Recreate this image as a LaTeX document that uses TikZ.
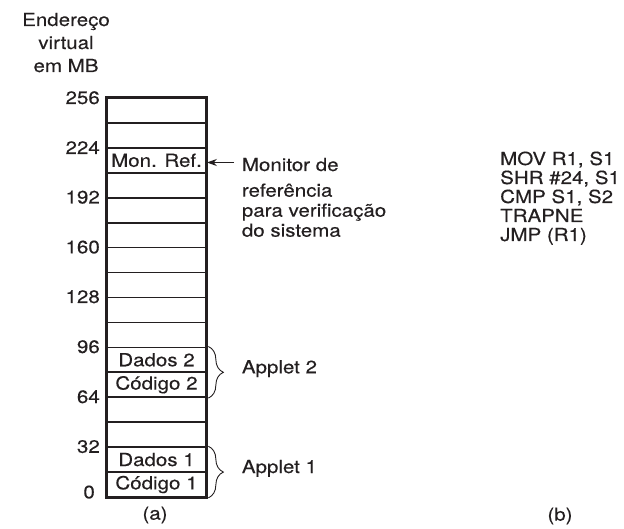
\documentclass[tikz,border=0pt]{standalone}
\usepackage{fontspec}
\setmainfont{TeX Gyre Heros}[FakeStretch=1.14,FakeBold=0.3]
\usetikzlibrary{arrows.meta,decorations.pathreplacing}
\definecolor{ink}{HTML}{231F20}
\begin{document}
\begin{tikzpicture}[x=1pt,y=-1pt,
  every node/.style={font=\fontsize{18}{20}\selectfont, inner sep=0pt, text=ink},
  cell/.style={draw=ink, line width=1.7pt, minimum width=99pt, minimum height=24.9375pt},
  num/.style={anchor=base east},
  lbl/.style={anchor=base west},
  bracestyle/.style={draw=ink, line width=0.9pt, decorate, decoration={brace, amplitude=15pt}}]
\useasboundingbox (0,0) rectangle (624,529);
% cells, 0 at bottom
\foreach \k in {0,...,15}
  \node[cell] (c\k) at (156.5, {98 + (15-\k)*24.9375 + 12.46875}) {};
\draw[ink, line width=2pt] (c15.north west) rectangle (c0.south east);
% cell texts
\node (t13) at (c13) {Mon. Ref.};
\node (t5) at (c5) {Dados 2};
\node (t4) at (c4) {Código 2};
\node (t1) at (c1) {Dados 1};
\node (t0) at (c0) {Código 1};
% axis title
\node[anchor=base] (e1) at (66,26) {Endereço};
\node[anchor=base] (e2) at (66,49) {virtual};
\node[anchor=base] (e3) at (66,72) {em MB};
% numbers
\node[num] (n256) at (100,104) {256};
\node[num] (n224) at (100,154) {224};
\node[num] (n192) at (100,203.5) {192};
\node[num] (n160) at (100,253.3) {160};
\node[num] (n128) at (100,303) {128};
\node[num] (n96) at (100,353) {96};
\node[num] (n64) at (100,403) {64};
\node[num] (n32) at (100,452.8) {32};
\node[num] (n0) at (95,498.3) {0};
% monitor
\node[lbl] (m1) at (241.7,171) {Monitor de};
\node[lbl] (m2) at (241.7,196.7) {referência};
\node[lbl] (m3) at (241.7,216.7) {para verificação};
\node[lbl] (m4) at (241.7,236.7) {do sistema};
\coordinate (arrS) at (234,162.5);
\draw[ink, line width=1.6pt, -{Stealth[length=10pt,width=7pt]}] (arrS) -- (arrS -| c13.east);
% braces
\draw[bracestyle] ([xshift=1.5pt]c5.north east) -- ([xshift=1.5pt]c4.south east);
\draw[bracestyle] ([xshift=1.5pt]c1.north east) -- ([xshift=1.5pt]c0.south east);
\node[lbl] (a2) at (241.7,373.3) {Applet 2};
\node[lbl] (a1) at (241.7,473) {Applet 1};
% captions
\node (capa) at (155,515) {(a)};
\node (capb) at (560,516) {(b)};
% code
\node[lbl] (k1) at (500,165) {MOV R1, S1};
\node[lbl] (k2) at (500,184) {SHR \#24, S1};
\node[lbl] (k3) at (500,203) {CMP S1, S2};
\node[lbl] (k4) at (500,222) {TRAPNE};
\node[lbl] (k5) at (500,241) {JMP (R1)};
\end{tikzpicture}
\end{document}
